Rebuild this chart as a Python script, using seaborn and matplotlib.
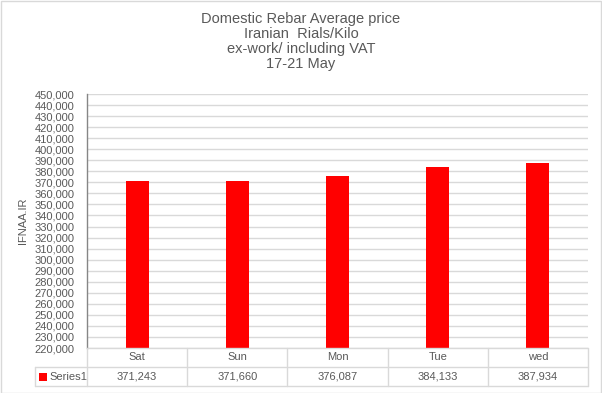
import matplotlib
matplotlib.use("Agg")
import matplotlib.pyplot as plt
import pandas as pd
import seaborn as sns
from matplotlib.patches import Rectangle
from matplotlib.ticker import FuncFormatter, MultipleLocator

days = ["Sat", "Sun", "Mon", "Tue", "wed"]
prices = [371243, 371660, 376087, 384133, 387934]
series_name = "Series1"
title_lines = ["Domestic Rebar Average price", "Iranian  Rials/Kilo",
               "ex-work/ including VAT", "17-21 May"]
y_label = "IFNAA.IR"

df = pd.DataFrame({"day": days, "price": prices})

sns.set_style("white")
plt.rcParams["font.family"] = ["Liberation Sans", "DejaVu Sans"]

W, H = 602, 393
fig = plt.figure(figsize=(W / 100, H / 100), dpi=100)
fig.patch.set_facecolor("white")
fig.patches.append(Rectangle((0.5 / W, 0.5 / H), 1 - 1.5 / W, 1 - 1.5 / H,
                             transform=fig.transFigure, fill=False,
                             edgecolor="#D9D9D9", linewidth=1))

text_c = "#595959"
line_c = "#D9D9D9"

# main plot area
left, right = 87 / W, 588 / W
ax = fig.add_axes([left, (H - 348) / H, right - left, 254 / H])
sns.barplot(data=df, x="day", y="price", color="#FF0000", width=0.23,
            saturation=1, linewidth=0, ax=ax, zorder=3)
ax.set_xlim(-0.5, len(days) - 0.5)
ax.set_ylim(220000, 450000)
ax.yaxis.set_major_locator(MultipleLocator(10000))
ax.yaxis.set_major_formatter(FuncFormatter(lambda v, p: f"{int(v):,}"))
ax.grid(axis="y", color=line_c, linewidth=1, zorder=0)
ax.set_axisbelow(True)
ax.tick_params(axis="y", length=0, pad=9, labelsize=8, labelcolor=text_c)
ax.set_xticks([])
ax.set_xlabel("")
ax.set_ylabel(y_label, fontsize=8, color=text_c, labelpad=5)
for s in ["top", "right", "bottom"]:
    ax.spines[s].set_visible(False)
ax.spines["left"].set_color("#868686")
ax.spines["left"].set_linewidth(1)

# data table below
tab = fig.add_axes([left, 7 / H, right - left, 38 / H])
tab.set_xlim(-0.5, len(days) - 0.5)
tab.set_ylim(0, 2)
tab.axis("off")
n = len(days)
px = (right - left) * W / n
tab.plot([-0.5, n - 0.5], [2, 2], color=line_c, lw=1, clip_on=False)
legend_x = -0.5 - 52 / px
tab.plot([legend_x, n - 0.5], [1, 1], color=line_c, lw=1, clip_on=False)
tab.plot([legend_x, n - 0.5], [0, 0], color=line_c, lw=1, clip_on=False)
tab.plot([legend_x, legend_x], [0, 1], color=line_c, lw=1, clip_on=False)
for i in range(n + 1):
    tab.plot([i - 0.5, i - 0.5], [0, 2], color=line_c, lw=1, clip_on=False)
for i, (d, p) in enumerate(zip(days, prices)):
    tab.text(i, 1.5, d, ha="center", va="center", fontsize=8, color=text_c)
    tab.text(i, 0.5, f"{p:,}", ha="center", va="center", fontsize=8, color=text_c)
tab.scatter([legend_x + 8 / px], [0.5], marker="s", s=26, color="#FF0000",
            linewidths=0, clip_on=False)
tab.text(legend_x + 14 / px, 0.5, series_name, ha="left", va="center",
         fontsize=8, color=text_c)

fig.text(0.5, 1 - 12 / H, "\n".join(title_lines), ha="center", va="top",
         fontsize=10.5, color=text_c, linespacing=1.1)

fig.savefig("out.png", dpi=100)
